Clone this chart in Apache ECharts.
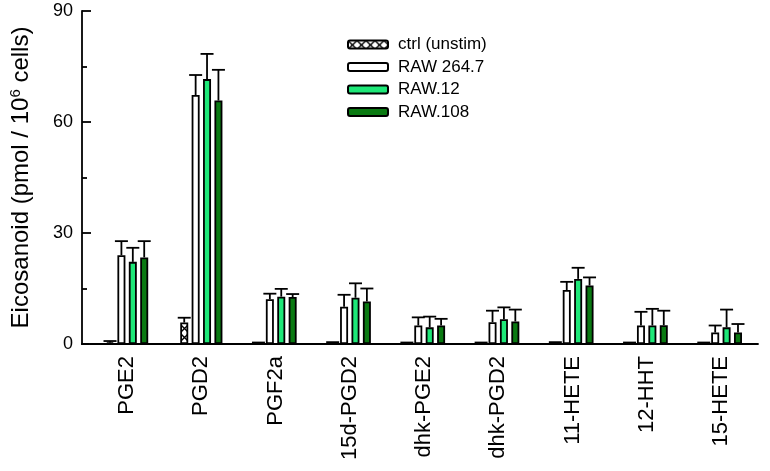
<!DOCTYPE html>
<html><head><meta charset="utf-8">
<script src="https://cdn.jsdelivr.net/npm/echarts@6/dist/echarts.min.js"></script>
<style>html,body{margin:0;padding:0;background:#fff}#c{width:770px;height:471px}</style>
</head><body><div id="c"></div>
<script>
const categories = ['PGE2','PGD2','PGF2a','15d-PGD2','dhk-PGE2','dhk-PGD2','11-HETE','12-HHT','15-HETE'];
const seriesNames = ['ctrl (unstim)','RAW 264.7','RAW.12','RAW.108'];
const ctrl     = [0.4, 5.8, 0.2, 0.3, 0.2, 0.2, 0.3, 0.2, 0.2];
const ctrlSd   = [0.4, 1.3, 0.2, 0.2, 0.2, 0.2, 0.2, 0.2, 0.2];
const raw264   = [24.0, 67.3, 12.1, 10.1, 5.0, 5.9, 14.6, 5.0, 3.1];
const raw264Sd = [3.8, 5.4, 1.5, 3.2, 2.2, 3.1, 2.2, 3.7, 1.9];
const raw12    = [22.2, 71.6, 12.8, 12.5, 4.5, 6.7, 17.6, 5.0, 4.5];
const raw12Sd  = [3.8, 6.8, 2.1, 3.9, 2.9, 3.2, 3.0, 4.5, 4.8];
const raw108   = [23.4, 65.8, 12.7, 11.5, 5.0, 6.1, 15.8, 5.1, 3.1];
const raw108Sd = [4.4, 8.3, 0.8, 3.5, 1.8, 3.2, 2.2, 3.9, 2.3];
const yTicks = [0, 30, 60, 90];

const means = [ctrl, raw264, raw12, raw108];
const sds = [ctrlSd, raw264Sd, raw12Sd, raw108Sd];

// hatch pattern for control
const pc = document.createElement('canvas');
pc.width = 9; pc.height = 9;
const px = pc.getContext('2d');
px.fillStyle = '#fff'; px.fillRect(0,0,9,9);
px.strokeStyle = '#000'; px.lineWidth = 1.4;
px.beginPath(); px.moveTo(0,0); px.lineTo(9,9); px.moveTo(9,0); px.lineTo(0,9); px.stroke();

const colors = [{image: pc, repeat: 'repeat'}, '#ffffff', '#1EE878', '#0A7A12'];
const BW = 8, GAP = 3.4;
const total = 4*BW + 3*GAP;
const LW = 1.8;

const chart = echarts.init(document.getElementById('c'), null, {renderer: 'canvas'});
const font = 'Liberation Sans, Arial, sans-serif';

const barSeries = seriesNames.map((n, i) => ({
  name: n, type: 'bar', data: means[i], barWidth: BW, barGap: (GAP/BW*100) + '%',
  itemStyle: {color: colors[i], borderColor: '#000', borderWidth: LW},
  emphasis: {disabled: true}, z: 2
}));

const errData = [];
for (let s = 0; s < 4; s++) for (let k = 0; k < categories.length; k++)
  errData.push([k, s, means[s][k], sds[s][k]]);

const errSeries = {
  type: 'custom', z: 3, silent: true,
  encode: {x: 0, y: 2},
  data: errData,
  renderItem: function (params, api) {
    const k = api.value(0), s = api.value(1), m = api.value(2), sd = api.value(3);
    const cx = api.coord([k, 0])[0] - total/2 + BW/2 + s*(BW+GAP);
    const yb = api.coord([k, m])[1];
    const yt = api.coord([k, m + sd])[1];
    const st = {stroke: '#000', lineWidth: LW};
    return {type: 'group', children: [
      {type: 'line', shape: {x1: cx, y1: yb, x2: cx, y2: yt}, style: st},
      {type: 'line', shape: {x1: cx - 6.5, y1: yt, x2: cx + 6.5, y2: yt}, style: st}
    ]};
  }
};

const GL = 89, YOFF = 8, GB = 127;
chart.setOption({
  animation: false,
  backgroundColor: '#fff',
  textStyle: {fontFamily: font},
  grid: {left: GL, right: 12, top: 11, bottom: GB, containLabel: false},
  legend: {
    data: seriesNames, orient: 'vertical', left: 342, top: 31,
    itemWidth: 40, itemHeight: 8, itemGap: 5.5,
    textStyle: {fontSize: 17, color: '#000', fontFamily: font, padding: [0,0,0,5]},
    selectedMode: false
  },
  xAxis: {
    type: 'category', data: categories,
    axisLine: {lineStyle: {color: '#000', width: LW}},
    axisTick: {show: false},
    axisLabel: {rotate: 90, fontSize: 22, color: '#000', margin: 12, fontFamily: font, interval: 0}
  },
  yAxis: {
    type: 'value', min: 0, max: 90, interval: 30, offset: YOFF,
    name: '{a|Eicosanoid (pmol / 10}{s|6}{a| cells)}',
    nameLocation: 'middle', nameGap: 47, nameRotate: 90,
    nameTextStyle: {rich: {
      a: {fontSize: 24, color: '#000', fontFamily: font},
      s: {fontSize: 15, color: '#000', fontFamily: font, verticalAlign: 'top', padding: [0,0,12,0]}
    }},
    axisLine: {show: true, lineStyle: {color: '#000', width: LW}},
    axisTick: {show: true, inside: true, length: 9, lineStyle: {color: '#000', width: LW}},
    minorTick: {show: true, splitNumber: 2, length: 5, lineStyle: {color: '#000', width: LW}},
    splitLine: {show: false},
    axisLabel: {fontSize: 18, color: '#000', margin: 9, fontFamily: font,
      formatter: v => yTicks.includes(v) ? String(v) : ''}
  },
  graphic: [{
    type: 'line', shape: {x1: GL - YOFF, y1: 471 - GB, x2: GL, y2: 471 - GB},
    style: {stroke: '#000', lineWidth: LW}, z: 5
  }],
  series: barSeries.concat([errSeries])
});
</script></body></html>
